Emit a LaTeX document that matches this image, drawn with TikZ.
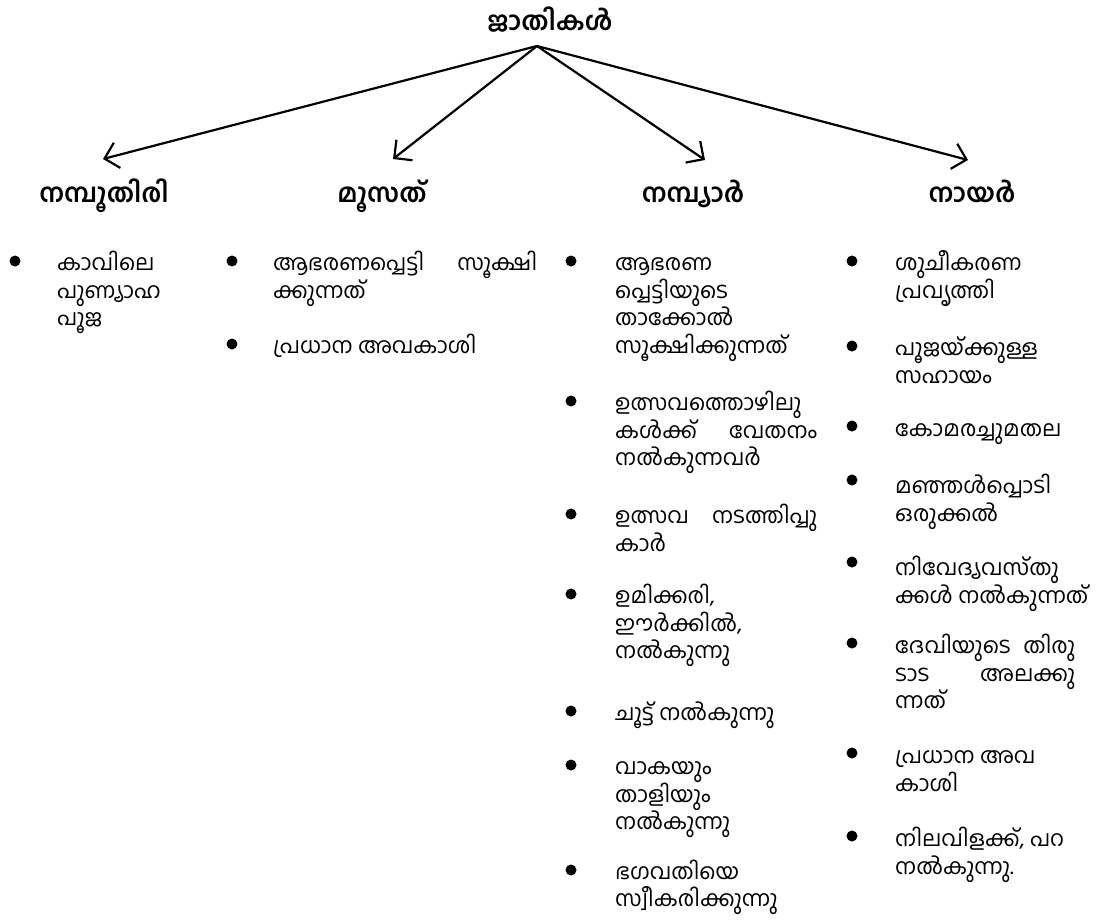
\documentclass[tikz,border=0pt]{standalone}
\usepackage{fontspec}
\newfontfamily\mal[Script=Malayalam]{Hind Kochi}
\usetikzlibrary{arrows.meta}
\tikzset{
  arr/.style={line width=2.2pt, -{Straight Barb[length=13pt,width=26pt,line width=2.2pt]}},
  item/.style={anchor=north west, inner sep=0pt, align=left, font=\mal\fontsize{22}{27.8}\selectfont},
  head/.style={anchor=base, inner sep=0pt, font=\mal\bfseries\fontsize{26}{30}\selectfont},
  bul/.style={circle, fill=black, inner sep=0pt, minimum size=11pt},
}
\newcommand{\jst}[2]{\makebox[#1][s]{#2}}
\newcommand{\st}{\rule{0pt}{21pt}}
\begin{document}
\begin{tikzpicture}[x=1pt,y=-1pt]
\useasboundingbox[fill=white] (0,0) rectangle (1098,922);
% title and arrows
\node[head] (title) at (550,30) {ജാതികൾ};
\coordinate (o) at (537,46);
\coordinate (t1) at (103,159);
\coordinate (t2) at (393,159);
\coordinate (t3) at (705,160);
\coordinate (t4) at (968,160);
\draw[arr] (o) -- (t1);
\draw[arr] (o) -- (t2);
\draw[arr] (o) -- (t3);
\draw[arr] (o) -- (t4);
% headers
\node[head] (h1) at (104,202) {നമ്പൂതിരി};
\node[head] (h2) at (382,202) {മൂസത്};
\node[head] (h3) at (693,202) {നമ്പ്യാർ};
\node[head] (h4) at (972,202) {നായർ};
% column 1
\node[bul] (b11) at (15,261) {};
\node[item] (i11) at (57,249) {\st കാവിലെ\\പുണ്യാഹ\\പൂജ};
% column 2
\node[bul] (b21) at (232,261) {};
\node[item] (i21) at (273,249) {\st\jst{264pt}{ആഭരണപ്പെട്ടി സൂക്ഷി}\\ക്കുന്നത്};
\node[bul] (b22) at (232,344) {};
\node[item] (i22) at (273,332) {\st പ്രധാന അവകാശി};
% column 3
\node[bul] (b31) at (571,261) {};
\node[item] (i31) at (615,249) {\st ആഭരണ\\പ്പെട്ടിയുടെ\\താക്കോൽ\\സൂക്ഷിക്കുന്നത്};
\node[bul] (b32) at (571,401) {};
\node[item] (i32) at (615,389) {\st ഉത്സവത്തൊഴിലു\\\jst{202pt}{കൾക്ക് വേതനം}\\നൽകുന്നവർ};
\node[bul] (b33) at (571,514) {};
\node[item] (i33) at (615,502) {\st\jst{202pt}{ഉത്സവ നടത്തിപ്പു}\\കാർ};
\node[bul] (b34) at (571,594) {};
\node[item] (i34) at (615,582) {\st ഉമിക്കരി,\\ഈർക്കിൽ,\\നൽകുന്നു};
\node[bul] (b35) at (571,711) {};
\node[item] (i35) at (615,699) {\st ചൂട്ട് നൽകുന്നു};
\node[bul] (b36) at (571,765) {};
\node[item] (i36) at (615,753) {\st വാകയും\\താളിയും\\നൽകുന്നു};
\node[bul] (b37) at (571,870) {};
\node[item, font=\mal\fontsize{22}{27}\selectfont] (i37) at (615,858) {\st ഭഗവതിയെ\\സ്വീകരിക്കുന്നു};
% column 4
\node[bul] (b41) at (852,261) {};
\node[item] (i41) at (895,249) {\st ശുചീകരണ\\പ്രവൃത്തി};
\node[bul] (b42) at (852,346) {};
\node[item] (i42) at (895,334) {\st പൂജയ്ക്കുള്ള\\സഹായം};
\node[bul] (b43) at (852,426) {};
\node[item] (i43) at (895,415) {\st കോമരച്ചുമതല};
\node[bul] (b44) at (852,480) {};
\node[item] (i44) at (895,472) {\st മഞ്ഞൾപ്പൊടി\\ഒരുക്കൽ};
\node[bul] (b45) at (852,562) {};
\node[item] (i45) at (895,554) {\st നിവേദ്യവസ്തു\\ക്കൾ നൽകുന്നത്};
\node[bul] (b46) at (852,643) {};
\node[item] (i46) at (895,632) {\st\jst{180pt}{ദേവിയുടെ തിരു}\\\jst{180pt}{ടാട അലക്കു}\\ന്നത്};
\node[bul] (b47) at (852,753) {};
\node[item] (i47) at (895,742) {\st പ്രധാന അവ\\കാശി};
\node[bul] (b48) at (852,836) {};
\node[item] (i48) at (895,825) {\st നിലവിളക്ക്, പറ\\നൽകുന്നു.};
\end{tikzpicture}
\end{document}
